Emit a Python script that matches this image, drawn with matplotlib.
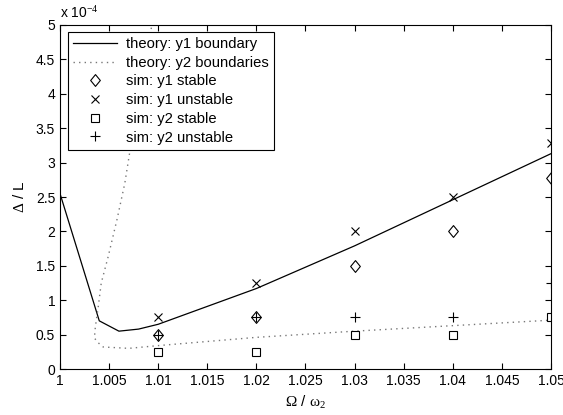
import numpy as np
import matplotlib.pyplot as plt
from matplotlib.path import Path

plt.rcParams['font.family'] = ['Liberation Sans', 'DejaVu Sans']
plt.rcParams['font.size'] = 10
plt.rcParams['mathtext.fontset'] = 'custom'
plt.rcParams['mathtext.rm'] = 'Liberation Serif'
plt.rcParams['mathtext.it'] = 'Liberation Serif'

# theory curves (units of 1e-4)
y1_x = [1.0, 1.004, 1.006, 1.008, 1.01, 1.02, 1.03, 1.04, 1.05]
y1_y = [2.55, 0.70, 0.55, 0.58, 0.65, 1.17, 1.79, 2.46, 3.13]

# y2 boundaries: upper branch (goes up behind the legend) then lower branch
y2_x = [1.0096, 1.0073, 1.0066, 1.0058, 1.0049, 1.0042, 1.0039, 1.0036, 1.0035,
        1.0039, 1.0044, 1.007, 1.01, 1.02, 1.03, 1.04, 1.05]
y2_y = [5.2, 3.33, 2.70, 2.17, 1.63, 1.25, 0.91, 0.61, 0.45,
        0.38, 0.32, 0.30, 0.34, 0.46, 0.55, 0.63, 0.71]

# simulation points
sim_x = [1.01, 1.02, 1.03, 1.04, 1.05]
y1_stable = [0.5, 0.75, 1.5, 2.0, 2.77]
y1_unstable = [0.75, 1.25, 2.0, 2.5, 3.28]
y2_stable = [0.25, 0.25, 0.5, 0.5, 0.75]
y2_unstable = [0.5, 0.75, 0.75, 0.75, 1.25]

# matlab-like diamond, a bit taller than wide
diamond = Path([(0, 1), (0.82, 0), (0, -1), (-0.82, 0), (0, 1)],
               [Path.MOVETO, Path.LINETO, Path.LINETO, Path.LINETO, Path.CLOSEPOLY])

fig = plt.figure(figsize=(5.63, 4.15), dpi=100)
ax = fig.add_axes([60 / 563, 1 - 369 / 415, 491 / 563, 344 / 415])

ax.plot(y1_x, y1_y, color='black', lw=0.9, label='theory: y1 boundary')
ax.plot(y2_x, y2_y, color='#777777', lw=1.0, ls=(0, (1, 3)), label='theory: y2 boundaries')
ax.plot(sim_x, y1_stable, ls='none', marker=diamond, ms=8.5, mfc='none', mec='black', mew=0.8,
        label='sim: y1 stable')
ax.plot(sim_x, y1_unstable, ls='none', marker='x', ms=5.5, color='black', mew=0.8,
        label='sim: y1 unstable')
ax.plot(sim_x, y2_stable, ls='none', marker='s', ms=6.2, mfc='none', mec='black', mew=0.8,
        label='sim: y2 stable')
ax.plot(sim_x, y2_unstable, ls='none', marker='+', ms=7.5, color='black', mew=0.8,
        label='sim: y2 unstable')

ax.set_xlim(1.0, 1.05)
ax.set_ylim(0, 5)
ax.set_xticks(np.arange(1.0, 1.0501, 0.005))
ax.set_xticklabels(['1', '1.005', '1.01', '1.015', '1.02', '1.025', '1.03',
                    '1.035', '1.04', '1.045', '1.05'])
ax.set_yticks(np.arange(0, 5.01, 0.5))
ax.set_yticklabels(['0', '0.5', '1', '1.5', '2', '2.5', '3', '3.5', '4', '4.5', '5'])
ax.tick_params(direction='in', top=True, right=True, length=4, width=0.8, labelsize=10)
for s in ax.spines.values():
    s.set_linewidth(0.8)

ax.set_xlabel(r'$\Omega$ / $\omega_2$', fontsize=11, labelpad=4)
ax.set_ylabel(r'$\Delta$ / L', fontsize=11, labelpad=6)
ax.text(0.0, 1.012, r'x 10$^{-4}$', transform=ax.transAxes, fontsize=10,
        ha='left', va='bottom')

leg = ax.legend(loc='upper left', bbox_to_anchor=(0.016, 0.98), fancybox=False,
                edgecolor='black', framealpha=1, fontsize=10.6, handlelength=3.0,
                labelspacing=0.32, borderpad=0.35, handletextpad=0.6, borderaxespad=0)
leg.get_frame().set_linewidth(0.8)

fig.savefig('out.png', dpi=100)
